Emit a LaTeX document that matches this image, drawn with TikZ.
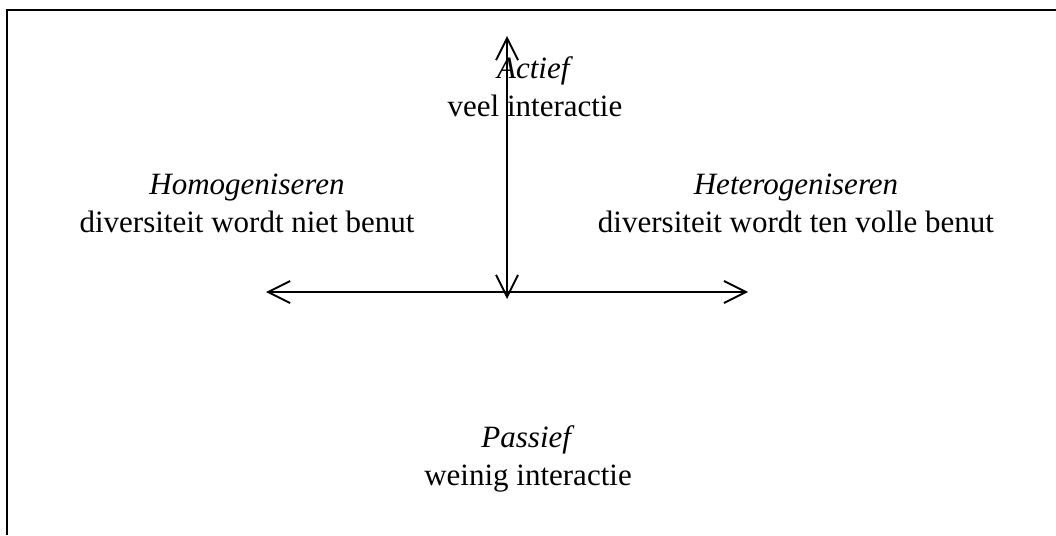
\documentclass[tikz,border=0pt]{standalone}
\usepackage{fontspec}
\setmainfont{Liberation Serif}
\usepackage{tikz}
\usetikzlibrary{arrows.meta}
\tikzset{
    label_node/.style = {align=center, inner sep=0pt, text centered, font=\fontsize{31}{38}\selectfont},
    axis/.style = {line width=1.9pt, {Straight Barb[length=22pt,width=22pt]}-{Straight Barb[length=22pt,width=22pt]}},
    frame/.style = {line width=2.4pt}
}

\begin{document}
\begin{tikzpicture}
            [x=1pt, y=-1pt]
            \useasboundingbox (0,0) rectangle (1056,535);

            % open frame, only top and left side
            \coordinate (fbl) at (7,535);
            \coordinate (ftl) at (7,10);
            \coordinate (ftr) at (1056,10);
            \draw [frame] (fbl) -- (ftl) -- (ftr);

            % axes
            \coordinate (top) at (507,36);
            \coordinate (bottom) at (507,299);
            \coordinate (left) at (266,292);
            \coordinate (right) at (748,292);
            \draw [axis] (left) -- (right);
            \draw [axis] (top) -- (bottom);

            % labels
            \node [label_node] (actief) at (535,87) {\textit{Actief}\\veel interactie};
            \node [label_node] (homo) at (247,203) {\textit{Homogeniseren}\\diversiteit wordt niet benut};
            \node [label_node] (hetero) at (796,203) {\textit{Heterogeniseren}\\diversiteit wordt ten volle benut};
            \node [label_node] (passief) at (528,459) {\textit{Passief}\\weinig interactie};
\end{tikzpicture}
\end{document}
